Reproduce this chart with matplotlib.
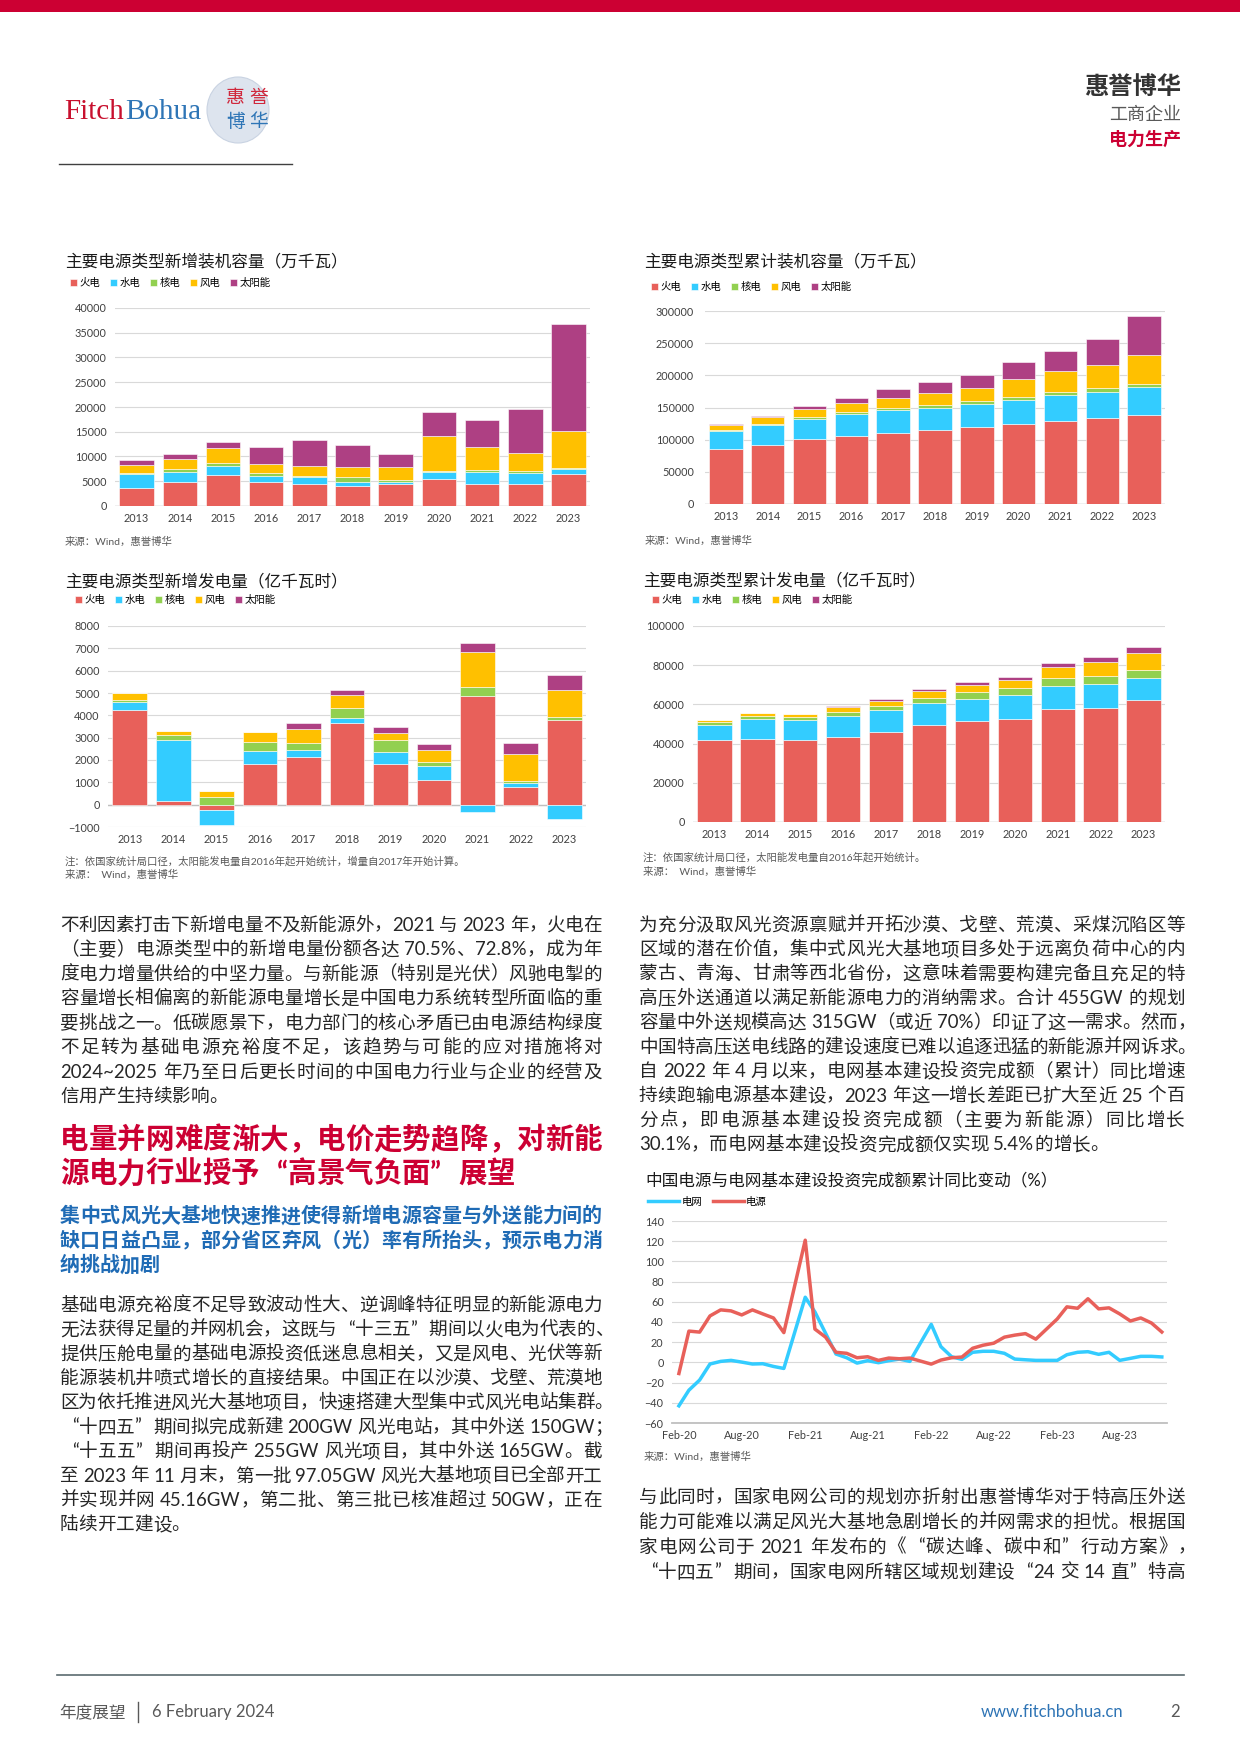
import re
import matplotlib
matplotlib.use('Agg')
import matplotlib.pyplot as plt
import matplotlib.dates as mdates
from matplotlib.patches import Rectangle, Ellipse
from matplotlib.lines import Line2D
import numpy as np
import pandas as pd

plt.rcParams['font.family'] = ['Lato', 'Noto Sans CJK SC', 'DejaVu Sans']

W, H = 1240, 1754

# ---- 数据 ----
years = ['2013', '2014', '2015', '2016', '2017', '2018', '2019', '2020', '2021', '2022', '2023']
names = ['火电', '水电', '核电', '风电', '太阳能']

# 新增装机容量（万千瓦）
add_cap_thermal = [3560, 4770, 6320, 4770, 4500, 4100, 4370, 5510, 4500, 4440, 6450]
add_cap_hydro = [2960, 2090, 1680, 1210, 1280, 810, 400, 1410, 2360, 2280, 1080]
add_cap_nuclear = [200, 600, 670, 670, 200, 870, 410, 200, 340, 340, 70]
add_cap_wind = [1480, 2090, 2960, 1810, 2020, 2090, 2620, 7050, 4760, 3700, 7590]
add_cap_solar = [1140, 870, 1280, 3560, 5310, 4500, 2620, 4910, 5510, 8800, 21650]

# 累计装机容量（万千瓦）
cum_cap_thermal = [86200, 92400, 100600, 106100, 111000, 114400, 119100, 124500, 129700, 133200, 139000]
cum_cap_hydro = [28000, 30500, 32000, 33200, 34400, 35300, 35800, 37000, 39100, 41400, 42200]
cum_cap_nuclear = [1500, 2000, 2700, 3400, 3600, 4500, 4900, 5000, 5300, 5600, 5700]
cum_cap_wind = [7700, 9700, 13100, 14700, 16400, 18400, 20900, 28200, 32800, 36500, 44100]
cum_cap_solar = [1600, 2500, 4200, 7700, 13000, 17400, 20400, 25300, 30700, 39300, 60900]

# 新增发电量（亿千瓦时）
add_gen_thermal = [4250, 150, -250, 1810, 2130, 3670, 1810, 1110, 4880, 810, 3780]
add_gen_hydro = [350, 2760, -680, 590, 300, 210, 530, 610, -330, 160, -630]
add_gen_nuclear = [100, 225, 345, 420, 345, 450, 550, 180, 410, 110, 150]
add_gen_wind = [300, 180, 285, 430, 600, 570, 330, 570, 1530, 1200, 1210]
add_gen_solar = [0, 0, 0, 0, 270, 240, 270, 260, 420, 460, 670]

# 累计发电量（亿千瓦时）
cum_gen_thermal = [41800, 42200, 41800, 43500, 45900, 49700, 51400, 52700, 57500, 58300, 62100]
cum_gen_hydro = [7900, 10500, 10100, 10600, 11100, 11000, 11500, 12300, 11900, 12100, 11400]
cum_gen_nuclear = [1100, 1400, 1500, 2200, 2200, 2700, 3400, 3500, 4100, 4100, 4200]
cum_gen_wind = [1400, 1700, 1900, 2200, 2700, 3600, 3800, 4100, 5600, 7000, 8400]
cum_gen_solar = [0, 0, 0, 700, 900, 1000, 1200, 1500, 2200, 2500, 3100]

# 电源与电网基本建设投资完成额累计同比（%）
months = ['2020-02', '2020-03', '2020-04', '2020-05', '2020-06', '2020-07', '2020-08', '2020-09',
          '2020-10', '2020-11', '2020-12',
          '2021-02', '2021-03', '2021-04', '2021-05', '2021-06', '2021-07', '2021-08', '2021-09',
          '2021-10', '2021-11', '2021-12',
          '2022-02', '2022-03', '2022-04', '2022-05', '2022-06', '2022-07', '2022-08', '2022-09',
          '2022-10', '2022-11', '2022-12',
          '2023-02', '2023-03', '2023-04', '2023-05', '2023-06', '2023-07', '2023-08', '2023-09',
          '2023-10', '2023-11', '2023-12']
grid_yoy = [-43, -27.5, -17.5, -1.6, 1, 2, 0.3, -1.6, -1.3, -4, -6,
            64.5, 50, 28.8, 8.3, 4.6, -0.7, 1.7, -0.3, 1.7, 3.3, 1,
            37.7, 15.6, 5.6, 3, 10, 11, 11, 9, 3.3, 2.6, 2,
            2, 7.6, 10, 10.6, 8, 10, 2, 4, 6, 6, 5.4]
power_yoy = [-11, 31, 30, 46, 52, 51, 47, 52, 48, 44, 29.5,
             121, 33, 25, 10, 9, 4.6, 5.6, 2, 4.3, 3.6, 4.3,
             -1.7, 2.3, 4.6, 5.3, 14, 17, 19, 25, 27, 28.5, 23,
             43, 55, 53.6, 63, 53, 54, 48, 41, 44, 39, 30.1]

# ---- 样式 ----
COLORS = ['#E8605A', '#33CCFF', '#92D050', '#FFC000', '#AE4083']
RED = '#CC0033'
BLUE = '#1F6BB5'
TXT = '#262626'
GRAY = '#595959'
TICK = 7.8
LEG = 7.5
TITLE = 12

fig = plt.figure(figsize=(W / 100, H / 100), dpi=100)
renderer = fig.canvas.get_renderer()


def fx(x):
    return x / W


def fy(y):
    return 1 - y / H


def px_axes(x0, y0, x1, y1):
    return fig.add_axes([x0 / W, 1 - y1 / H, (x1 - x0) / W, (y1 - y0) / H])


def label(x, y, s, size, color=TXT, weight='normal', ha='left', family=None):
    kw = {}
    if family:
        kw['family'] = family
    return fig.text(fx(x), fy(y), s, fontsize=size, color=color, fontweight=weight,
                    ha=ha, va='center', **kw)


CLOSE = '，。、；：）》”！？'
OPEN = '（《“'


def text_line(x0, x1, y, s, size, color=TXT, weight='normal', justify=True):
    # 两端对齐：中文按全角宽度排，西文按实际宽度，剩余空间平均分配
    em = size * 100 / 72
    base = y + 0.36 * em
    if justify and s[-1] in CLOSE:
        x1 += 0.6 * em
    items = []
    for tok in re.findall(r'[A-Za-z0-9.%~\-]+| |.', s):
        if tok == ' ':
            items.append((None, 0.25 * em, 'left'))
            continue
        t = fig.text(0, fy(base), tok, fontsize=size, color=color, fontweight=weight, va='baseline')
        if tok in CLOSE:
            w, ha = em, 'left'
        elif tok in OPEN:
            w, ha = em, 'right'
        elif ord(tok[0]) > 0x2E80:
            w, ha = em, 'center'
        else:
            w, ha = t.get_window_extent(renderer).width, 'left'
        t.set_ha(ha)
        items.append((t, w, ha))
    total = sum(w for _, w, _ in items)
    gap = (x1 - x0 - total) / max(len(items) - 1, 1) if justify else 0.0
    x = x0
    for t, w, ha in items:
        if t is not None:
            if ha == 'right':
                t.set_x(fx(x + w))
            elif ha == 'center':
                t.set_x(fx(x + w / 2))
            else:
                t.set_x(fx(x))
        x += w + gap


def paragraph(x0, x1, y0, step, lines, size=13.4, color=TXT, weight='normal'):
    for i, s in enumerate(lines):
        text_line(x0, x1, y0 + i * step, s, size, color, weight, justify=(i < len(lines) - 1))


def base_style(ax, ymin, ymax, step, ypad=6, zero=True):
    ax.set_ylim(ymin, ymax)
    ax.set_yticks(np.arange(ymin, ymax + step / 2, step))
    ax.grid(axis='y', color='#D9D9D9', lw=0.8)
    ax.set_axisbelow(True)
    for sp in ['top', 'right', 'left', 'bottom']:
        ax.spines[sp].set_visible(False)
    if zero:
        ax.axhline(0, color='#BFBFBF', lw=1.0, zorder=1)
    ax.tick_params(axis='both', length=0, labelsize=TICK, colors='#404040')
    ax.tick_params(axis='y', pad=ypad)
    ax.tick_params(axis='x', pad=5)


def stacked(ax, series):
    x = np.arange(len(years))
    pos = np.zeros(len(years))
    neg = np.zeros(len(years))
    for vals, c, n in zip(series, COLORS, names):
        v = np.array(vals, dtype=float)
        bottom = np.where(v >= 0, pos, neg)
        ax.bar(x, v, 0.8, bottom=bottom, color=c, edgecolor='white', linewidth=0.4, label=n, zorder=2)
        pos += np.where(v >= 0, v, 0)
        neg += np.where(v < 0, v, 0)
    ax.set_xticks(x, years)
    ax.set_xlim(-0.5, len(years) - 0.5)


def legend_at(ax, x, y, ncol=5, **kw):
    opts = dict(loc='center left', bbox_to_anchor=(fx(x), fy(y)), bbox_transform=fig.transFigure,
                ncol=ncol, frameon=False, fontsize=LEG, handlelength=0.7, handleheight=0.7,
                handletextpad=0.25, columnspacing=0.9, borderpad=0, borderaxespad=0)
    opts.update(kw)
    ax.legend(**opts)


# ---- 页眉 ----
fig.add_artist(Rectangle((0, fy(12)), 1, 12 / H, transform=fig.transFigure, color=RED, lw=0))
t1 = fig.text(fx(64), fy(119), 'Fitch', fontsize=21, color='#C8102E', family='Liberation Serif', va='baseline')
w1 = t1.get_window_extent(renderer).width
fig.text(fx(64 + w1 + 1), fy(119), 'Bohua', fontsize=21, color='#2E75B6', family='Liberation Serif', va='baseline')
fig.add_artist(Ellipse((fx(238), fy(110)), 62 / W, 66 / H, transform=fig.transFigure,
                       facecolor='#DDE4EE', edgecolor='#C9D3E2', lw=0.8))
label(226, 97, '惠', 13.5, color='#D0283C')
label(249, 97, '誉', 13.5, color='#D0283C')
label(226, 122, '博', 13.5, color='#2E75B6')
label(249, 122, '华', 13.5, color='#2E75B6')
fig.add_artist(Line2D([fx(59), fx(292)], [fy(164), fy(164)], color='#404040', lw=1))

label(1181, 86, '惠誉博华', 17.5, color='#333333', weight='bold', ha='right')
label(1181, 115, '工商企业', 13, color=GRAY, ha='right')
label(1181, 139, '电力生产', 13, color=RED, weight='bold', ha='right')

# ---- 图1：新增装机 ----
label(65, 261, '主要电源类型新增装机容量（万千瓦）', TITLE, color='#1A1A1A')
ax1 = px_axes(115, 308, 590, 506)
stacked(ax1, [add_cap_thermal, add_cap_hydro, add_cap_nuclear, add_cap_wind, add_cap_solar])
base_style(ax1, 0, 40000, 5000)
legend_at(ax1, 70, 283)
label(65, 542, '来源：Wind，惠誉博华', 7.5, color=GRAY)

# ---- 图2：累计装机 ----
label(644, 261, '主要电源类型累计装机容量（万千瓦）', TITLE, color='#1A1A1A')
ax2 = px_axes(705, 311, 1165, 504)
stacked(ax2, [cum_cap_thermal, cum_cap_hydro, cum_cap_nuclear, cum_cap_wind, cum_cap_solar])
base_style(ax2, 0, 300000, 50000, ypad=8)
legend_at(ax2, 651, 287)
label(645, 541, '来源：Wind，惠誉博华', 7.5, color=GRAY)

# ---- 图3：新增发电量 ----
label(65, 581, '主要电源类型新增发电量（亿千瓦时）', TITLE, color='#1A1A1A')
ax3 = px_axes(108, 626, 586, 827)
stacked(ax3, [add_gen_thermal, add_gen_hydro, add_gen_nuclear, add_gen_wind, add_gen_solar])
base_style(ax3, -1000, 8000, 1000)
legend_at(ax3, 75, 600)
label(65, 861, '注：依国家统计局口径，太阳能发电量自2016年起开始统计，增量自2017年开始计算。', 7.5, color=GRAY)
label(65, 875, '来源：  Wind，惠誉博华', 7.5, color=GRAY)

# ---- 图4：累计发电量 ----
label(643, 580, '主要电源类型累计发电量（亿千瓦时）', TITLE, color='#1A1A1A')
ax4 = px_axes(693, 626, 1165, 822)
stacked(ax4, [cum_gen_thermal, cum_gen_hydro, cum_gen_nuclear, cum_gen_wind, cum_gen_solar])
base_style(ax4, 0, 100000, 20000)
legend_at(ax4, 652, 600)
label(643, 857, '注：依国家统计局口径，太阳能发电量自2016年起开始统计。', 7.5, color=GRAY)
label(643, 872, '来源：  Wind，惠誉博华', 7.5, color=GRAY)

# ---- 图5：投资同比 ----
label(645, 1180, '中国电源与电网基本建设投资完成额累计同比变动（%）', TITLE, color='#1A1A1A')
ax5 = px_axes(672, 1221, 1167, 1423)
dates = pd.to_datetime(months)
ax5.plot(dates, grid_yoy, color='#33CCFF', lw=2.5, label='电网', zorder=3)
ax5.plot(dates, power_yoy, color='#E8605A', lw=2.5, label='电源', zorder=3)
base_style(ax5, -60, 140, 20, zero=False)
ax5.spines['bottom'].set_visible(True)
ax5.spines['bottom'].set_color('#BFBFBF')
ax5.spines['bottom'].set_linewidth(1.3)
ax5.set_xlim(pd.Timestamp('2020-01-12'), pd.Timestamp('2023-12-16'))
ax5.xaxis.set_major_locator(mdates.MonthLocator(bymonth=[2, 8]))
ax5.xaxis.set_major_formatter(mdates.DateFormatter('%b-%y'))
legend_at(ax5, 648, 1202, ncol=2, handlelength=3.0, handleheight=0.7, handletextpad=0.2, columnspacing=1.0)
label(644, 1457, '来源：Wind，惠誉博华', 7.5, color=GRAY)

# ---- 正文 ----
paragraph(60, 602, 924, 24.5, [
    '不利因素打击下新增电量不及新能源外，2021 与 2023 年，火电在',
    '（主要）电源类型中的新增电量份额各达 70.5%、72.8%，成为年',
    '度电力增量供给的中坚力量。与新能源（特别是光伏）风驰电掣的',
    '容量增长相偏离的新能源电量增长是中国电力系统转型所面临的重',
    '要挑战之一。低碳愿景下，电力部门的核心矛盾已由电源结构绿度',
    '不足转为基础电源充裕度不足，该趋势与可能的应对措施将对',
    '2024~2025 年乃至日后更长时间的中国电力行业与企业的经营及',
    '信用产生持续影响。',
])

paragraph(60, 602, 1138, 34, [
    '电量并网难度渐大，电价走势趋降，对新能',
    '源电力行业授予“高景气负面”展望',
], size=20.5, color=RED, weight='bold')

paragraph(60, 602, 1215, 24.5, [
    '集中式风光大基地快速推进使得新增电源容量与外送能力间的',
    '缺口日益凸显，部分省区弃风（光）率有所抬头，预示电力消',
    '纳挑战加剧',
], size=14.4, color=BLUE, weight='bold')

paragraph(60, 602, 1304, 24.4, [
    '基础电源充裕度不足导致波动性大、逆调峰特征明显的新能源电力',
    '无法获得足量的并网机会，这既与“十三五”期间以火电为代表的、',
    '提供压舱电量的基础电源投资低迷息息相关，又是风电、光伏等新',
    '能源装机井喷式增长的直接结果。中国正在以沙漠、戈壁、荒漠地',
    '区为依托推进风光大基地项目，快速搭建大型集中式风光电站集群。',
    '“十四五”期间拟完成新建 200GW 风光电站，其中外送 150GW；',
    '“十五五”期间再投产 255GW 风光项目，其中外送 165GW。截',
    '至 2023 年 11 月末，第一批 97.05GW 风光大基地项目已全部开工',
    '并实现并网 45.16GW，第二批、第三批已核准超过 50GW，正在',
    '陆续开工建设。',
])

paragraph(639, 1185, 924, 24.4, [
    '为充分汲取风光资源禀赋并开拓沙漠、戈壁、荒漠、采煤沉陷区等',
    '区域的潜在价值，集中式风光大基地项目多处于远离负荷中心的内',
    '蒙古、青海、甘肃等西北省份，这意味着需要构建完备且充足的特',
    '高压外送通道以满足新能源电力的消纳需求。合计 455GW 的规划',
    '容量中外送规模高达 315GW（或近 70%）印证了这一需求。然而，',
    '中国特高压送电线路的建设速度已难以追逐迅猛的新能源并网诉求。',
    '自 2022 年 4 月以来，电网基本建设投资完成额（累计）同比增速',
    '持续跑输电源基本建设，2023 年这一增长差距已扩大至近 25 个百',
    '分点，即电源基本建设投资完成额（主要为新能源）同比增长',
    '30.1%，而电网基本建设投资完成额仅实现 5.4%的增长。',
])

for i, s in enumerate([
    '与此同时，国家电网公司的规划亦折射出惠誉博华对于特高压外送',
    '能力可能难以满足风光大基地急剧增长的并网需求的担忧。根据国',
    '家电网公司于 2021 年发布的《“碳达峰、碳中和”行动方案》，',
    '“十四五”期间，国家电网所辖区域规划建设“24 交 14 直”特高',
]):
    text_line(639, 1185, 1496 + i * 25, s, 13.4)

# ---- 页脚 ----
fig.add_artist(Line2D([fx(57), fx(1184)], [fy(1675), fy(1675)], color='#5B6B70', lw=1.2))
label(59, 1712, '年度展望', 12, color=GRAY)
fig.add_artist(Line2D([fx(138), fx(138)], [fy(1702), fy(1722)], color=GRAY, lw=1))
label(152, 1712, '6 February 2024', 12, color=GRAY)
label(1123, 1712, 'www.fitchbohua.cn', 12, color='#2E74B5', ha='right')
label(1180, 1712, '2', 12, color=GRAY, ha='right')

fig.savefig('out.png', dpi=100)
